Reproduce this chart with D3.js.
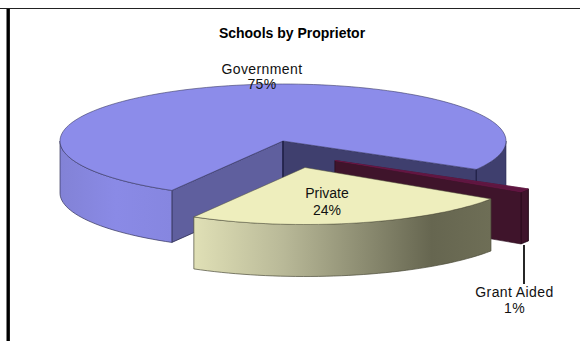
<!DOCTYPE html>
<html><head><meta charset="utf-8">
<script src="https://cdn.jsdelivr.net/npm/d3@7/dist/d3.min.js"></script>
<style>html,body{margin:0;padding:0;background:#fff}svg{display:block}</style></head>
<body><div id="c"></div>
<script>
const categories = ["Government", "Grant Aided", "Private"];
const shares = [75, 1, 24];
const chartTitle = "Schools by Proprietor";
const topColors = ["#8c8cea", "#5e1640", "#eeeebd"];

const W = 580, H = 341;
const svg = d3.select("#c").append("svg").attr("width", W).attr("height", H);
const rad = Math.PI / 180;
const rx = 223, ry = 57, depth = 52;
const centers = [[283, 141], [335, 160.5], [305, 167.5]];

const arcs = d3.pie().sort(null).value(d => d).startAngle(209.9 * rad).endAngle(569.9 * rad)(shares);

const defs = svg.append("defs");
const g1 = defs.append("linearGradient").attr("id", "gGov");
[[0, "#8282d6"], [0.5, "#8a8ae6"], [1, "#8686e0"]].forEach(s => g1.append("stop").attr("offset", s[0]).attr("stop-color", s[1]));
const g2 = defs.append("linearGradient").attr("id", "gPri");
[[0, "#e0e0b6"], [0.3, "#b9b998"], [0.65, "#7f7f66"], [0.8, "#666650"], [1, "#6e6e56"]].forEach(s => g2.append("stop").attr("offset", s[0]).attr("stop-color", s[1]));

function pt(c, a, dy) { return [c[0] + rx * Math.sin(a), c[1] - ry * Math.cos(a) + (dy || 0)]; }
function rim(c, a0, a1, dy) {
  const n = Math.max(2, Math.ceil(Math.abs(a1 - a0) / (2 * rad)));
  return d3.range(n + 1).map(i => pt(c, a0 + (a1 - a0) * i / n, dy));
}
const line = d3.line();
function wedge(c, a0, a1) { return line([c, ...rim(c, a0, a1)]) + "Z"; }
function side(c, a0, a1) { return line([...rim(c, a0, a1), ...rim(c, a1, a0, depth)]) + "Z"; }
function face(c, a) { const p = pt(c, a); return line([c, p, [p[0], p[1] + depth], [c[0], c[1] + depth]]) + "Z"; }

// Government: rear cut faces, outer walls, then the top
const gov = arcs[0], c0 = centers[0];
const gov2 = gov.endAngle - 2 * Math.PI;
const gG = svg.append("g").attr("stroke-linejoin", "round");
gG.append("path").attr("d", face(c0, gov2)).attr("fill", "#3f3f6e").attr("stroke", "#2a2a50").attr("stroke-width", 0.6);
gG.append("path").attr("d", side(c0, Math.PI / 2, gov2)).attr("fill", "#3f3f6e").attr("stroke", "#2a2a50").attr("stroke-width", 0.6);
gG.append("path").attr("d", face(c0, gov.startAngle)).attr("fill", "#5f5f9e").attr("stroke", "#2a2a50").attr("stroke-width", 0.8);
gG.append("path").attr("d", side(c0, 1.5 * Math.PI, gov.startAngle)).attr("fill", "url(#gGov)").attr("stroke", "#33335a").attr("stroke-width", 0.7);
gG.append("path").attr("d", wedge(c0, gov.startAngle, gov.endAngle)).attr("fill", topColors[0]).attr("stroke", "#3a3a66").attr("stroke-width", 0.6);
// Dark vertical edges at the centre and at the end of the cut
gG.append("line").attr("x1", c0[0]).attr("x2", c0[0]).attr("y1", c0[1]).attr("y2", c0[1] + depth).attr("stroke", "#22224a").attr("stroke-width", 1.6);
const gEnd = pt(c0, gov.endAngle);
gG.append("line").attr("x1", gEnd[0]).attr("x2", gEnd[0]).attr("y1", gEnd[1]).attr("y2", gEnd[1] + depth).attr("stroke", "#22224a").attr("stroke-width", 1.2);

// Grant Aided: thin slice pulled out to the right
const gr = arcs[1], c1 = centers[1];
const gR = svg.append("g").attr("stroke-linejoin", "round");
gR.append("path").attr("d", face(c1, gr.startAngle)).attr("fill", "#3f142b").attr("stroke", "#2a0c1c").attr("stroke-width", 0.6);
gR.append("path").attr("d", side(c1, gr.startAngle, gr.endAngle)).attr("fill", "#3f142b").attr("stroke", "#1c0812").attr("stroke-width", 0.7);
gR.append("path").attr("d", face(c1, gr.endAngle)).attr("fill", "#3f142b").attr("stroke", "#2a0c1c").attr("stroke-width", 0.6);
gR.append("path").attr("d", wedge(c1, gr.startAngle, gr.endAngle)).attr("fill", topColors[1]).attr("stroke", "#7a1a50").attr("stroke-width", 0.5);

// Private: pulled out towards the viewer
const pr = arcs[2], c2 = centers[2];
const gP = svg.append("g").attr("stroke-linejoin", "round");
gP.append("path").attr("d", side(c2, pr.startAngle, pr.endAngle)).attr("fill", "url(#gPri)").attr("stroke", "#4a4a38").attr("stroke-width", 0.7);
gP.append("path").attr("d", wedge(c2, pr.startAngle, pr.endAngle)).attr("fill", topColors[2]).attr("stroke", "#55553f").attr("stroke-width", 0.5);

// Leader line of the Grant Aided label
svg.append("line").attr("x1", 524).attr("y1", 245).attr("x2", 524).attr("y2", 284).attr("stroke", "#000").attr("stroke-width", 1.7);

// Frame
svg.append("line").attr("x1", 0).attr("x2", W).attr("y1", 8.5).attr("y2", 8.5).attr("stroke", "#222").attr("stroke-width", 1.2);
svg.append("line").attr("x1", 8.2).attr("x2", 8.2).attr("y1", 9).attr("y2", H).attr("stroke", "#000").attr("stroke-width", 3.4);

// Text
const font = "Liberation Sans, Arial, sans-serif";
svg.append("text").attr("x", 292).attr("y", 38).attr("text-anchor", "middle").attr("font-family", font).attr("font-size", 14).attr("font-weight", "bold").attr("fill", "#000").text(chartTitle);
const labelAt = [[262, 74, 89], [514.5, 297, 313], [327, 198, 215]];
categories.forEach((name, i) => {
  const t = svg.append("text").attr("text-anchor", "middle").attr("font-family", font).attr("font-size", 14).attr("letter-spacing", i === 2 ? 0 : 0.4).attr("fill", "#111");
  t.append("tspan").attr("x", labelAt[i][0]).attr("y", labelAt[i][1]).text(name);
  t.append("tspan").attr("x", labelAt[i][0]).attr("y", labelAt[i][2]).text(shares[i] + "%");
});
</script></body></html>
